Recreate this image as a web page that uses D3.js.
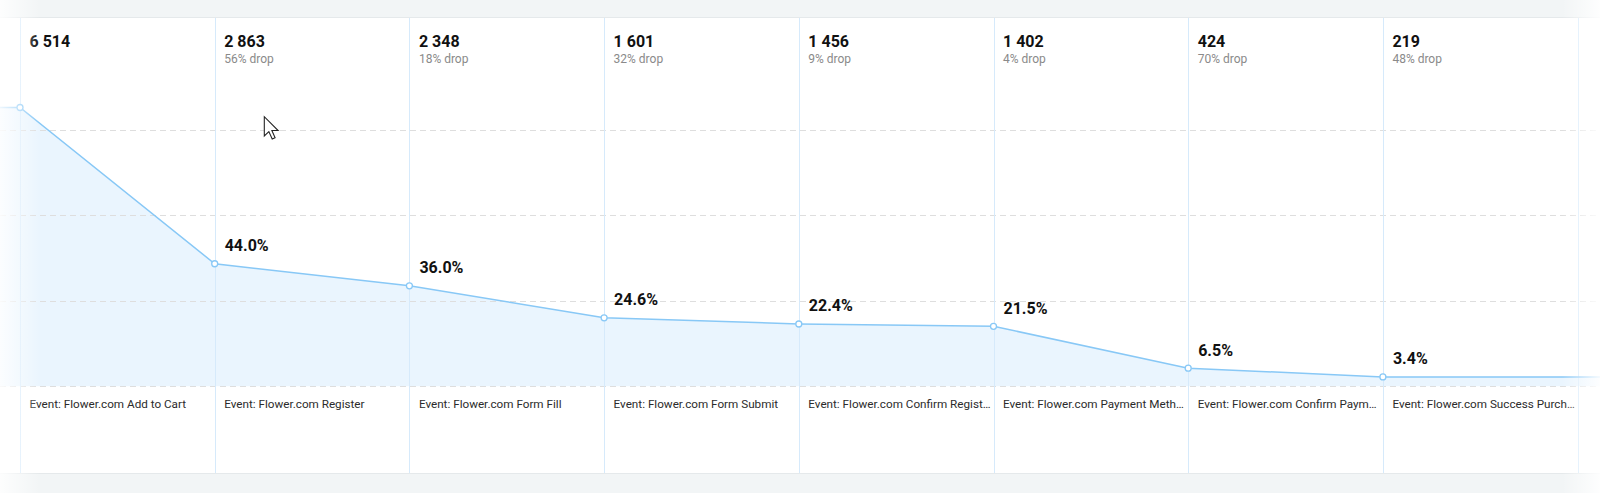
<!DOCTYPE html>
<html>
<head>
<meta charset="utf-8">
<script src="https://cdn.jsdelivr.net/npm/d3@7"></script>
<style>
  html, body { margin: 0; padding: 0; background: #ffffff; }
  svg { display: block; font-family: Roboto, "Noto Sans", Arial, sans-serif; }
</style>
</head>
<body>
<svg id="chart" width="1600" height="493"></svg>
<script>
// ---------- data ----------
const stepLabels = [
  "Event: Flower.com Add to Cart",
  "Event: Flower.com Register",
  "Event: Flower.com Form Fill",
  "Event: Flower.com Form Submit",
  "Event: Flower.com Confirm Regist…",
  "Event: Flower.com Payment Meth…",
  "Event: Flower.com Confirm Paym…",
  "Event: Flower.com Success Purch…"
];
const counts = [6514, 2863, 2348, 1601, 1456, 1402, 424, 219];
const dropLabels = ["", "56% drop", "18% drop", "32% drop", "9% drop", "4% drop", "70% drop", "48% drop"];
const conversionLabels = ["", "44.0%", "36.0%", "24.6%", "22.4%", "21.5%", "6.5%", "3.4%"];
const yTicks = [0, 2000, 4000, 6000];

// ---------- layout ----------
const W = 1600, H = 493;
const panelTop = 18, panelBottom = 473;
const plotLeft = 20, plotRight = 1577.6;
const baseY = 386.3;

const svg = d3.select("#chart");
const defs = svg.append("defs");

const x = d3.scaleBand().domain(d3.range(counts.length)).range([plotLeft, plotRight]).paddingInner(0).paddingOuter(0);
const y = d3.scaleLinear().domain([0, 8000]).range([baseY, baseY - 8000 * 0.0428]);

const fmt = d3.formatLocale({ decimal: ".", thousands: " ", grouping: [3], currency: ["", ""] }).format(",");

// background bands
svg.append("rect").attr("x", 0).attr("y", 0).attr("width", W).attr("height", panelTop).attr("fill", "#f2f5f6");
svg.append("rect").attr("x", 0).attr("y", panelBottom).attr("width", W).attr("height", H - panelBottom).attr("fill", "#f2f5f6");
svg.append("line").attr("x1", 0).attr("x2", W).attr("y1", panelTop - 0.5).attr("y2", panelTop - 0.5).attr("stroke", "#e5e9eb").attr("stroke-width", 1);
svg.append("line").attr("x1", 0).attr("x2", W).attr("y1", panelBottom + 0.5).attr("y2", panelBottom + 0.5).attr("stroke", "#e5e9eb").attr("stroke-width", 1);

// area + line (extended to edges)
const pts = counts.map((c, i) => [x(i), y(c)]);
const ext = [[0, y(counts[0])], ...pts, [W, y(counts[counts.length - 1])]];

svg.append("path")
  .datum(ext)
  .attr("fill", "#eaf5fe")
  .attr("d", d3.area().x(d => d[0]).y0(baseY).y1(d => d[1]));

// gridlines
svg.append("g").selectAll("line").data(yTicks).join("line")
  .attr("x1", 0).attr("x2", W)
  .attr("y1", d => Math.round(y(d)) + 0.5).attr("y2", d => Math.round(y(d)) + 0.5)
  .attr("stroke", "#dedede").attr("stroke-width", 1).attr("stroke-dasharray", "6,4");

// vertical column lines
const colEdges = d3.range(counts.length).map(i => x(i)).concat([plotRight]);
svg.append("g").selectAll("line").data(colEdges).join("line")
  .attr("x1", d => Math.round(d) + 0.5).attr("x2", d => Math.round(d) + 0.5)
  .attr("y1", panelTop).attr("y2", panelBottom)
  .attr("stroke", "#d6eafb").attr("stroke-width", 1);

svg.append("path")
  .datum(ext)
  .attr("fill", "none")
  .attr("stroke", "#88c8f6")
  .attr("stroke-width", 1.5)
  .attr("d", d3.line().x(d => d[0]).y(d => d[1]));

svg.append("g").selectAll("circle").data(pts).join("circle")
  .attr("cx", d => d[0]).attr("cy", d => d[1]).attr("r", 3)
  .attr("fill", "#ffffff").attr("stroke", "#88c8f6").attr("stroke-width", 1.3);

// top labels
const cols = svg.append("g").selectAll("g").data(counts).join("g")
  .attr("transform", (d, i) => `translate(${x(i) + 9.5},0)`);
cols.append("text")
  .attr("y", 46.7)
  .attr("font-size", 16).attr("font-weight", 700).attr("fill", "#111")
  .text(d => fmt(d));
cols.append("text")
  .attr("y", 63.3)
  .attr("font-size", 12).attr("fill", "#8a8a8a")
  .text((d, i) => dropLabels[i]);

// conversion labels
svg.append("g").selectAll("text").data(counts).join("text")
  .attr("x", (d, i) => x(i) + 10)
  .attr("y", d => y(d) - 12.5)
  .attr("font-size", 16).attr("font-weight", 700).attr("fill", "#111")
  .text((d, i) => conversionLabels[i]);

// step labels
svg.append("g").selectAll("text").data(stepLabels).join("text")
  .attr("x", (d, i) => x(i) + 9.5)
  .attr("y", 408.3)
  .attr("font-size", 11.7).attr("fill", "#2b2b2b")
  .text(d => d);

// cursor decoration
svg.append("path")
  .attr("transform", "translate(264.3,116.7) scale(1.2)")
  .attr("d", "M0,0 L0,16 L3.8,12.4 L6.6,18.6 L9,17.6 L6.3,11.5 L11.5,11.5 Z")
  .attr("fill", "#ffffff").attr("stroke", "#222").attr("stroke-width", 0.9);

// edge fades
const lg = defs.append("linearGradient").attr("id", "fadeL").attr("x1", 0).attr("x2", 1).attr("y1", 0).attr("y2", 0);
lg.append("stop").attr("offset", 0).attr("stop-color", "#fff").attr("stop-opacity", 0.85);
lg.append("stop").attr("offset", 1).attr("stop-color", "#fff").attr("stop-opacity", 0);
const rg = defs.append("linearGradient").attr("id", "fadeR").attr("x1", 0).attr("x2", 1).attr("y1", 0).attr("y2", 0);
rg.append("stop").attr("offset", 0).attr("stop-color", "#fff").attr("stop-opacity", 0);
rg.append("stop").attr("offset", 1).attr("stop-color", "#fff").attr("stop-opacity", 0.9);
svg.append("rect").attr("x", 0).attr("y", 0).attr("width", 40).attr("height", H).attr("fill", "url(#fadeL)");
svg.append("rect").attr("x", 1562).attr("y", 0).attr("width", 38).attr("height", H).attr("fill", "url(#fadeR)");
</script>
</body>
</html>
